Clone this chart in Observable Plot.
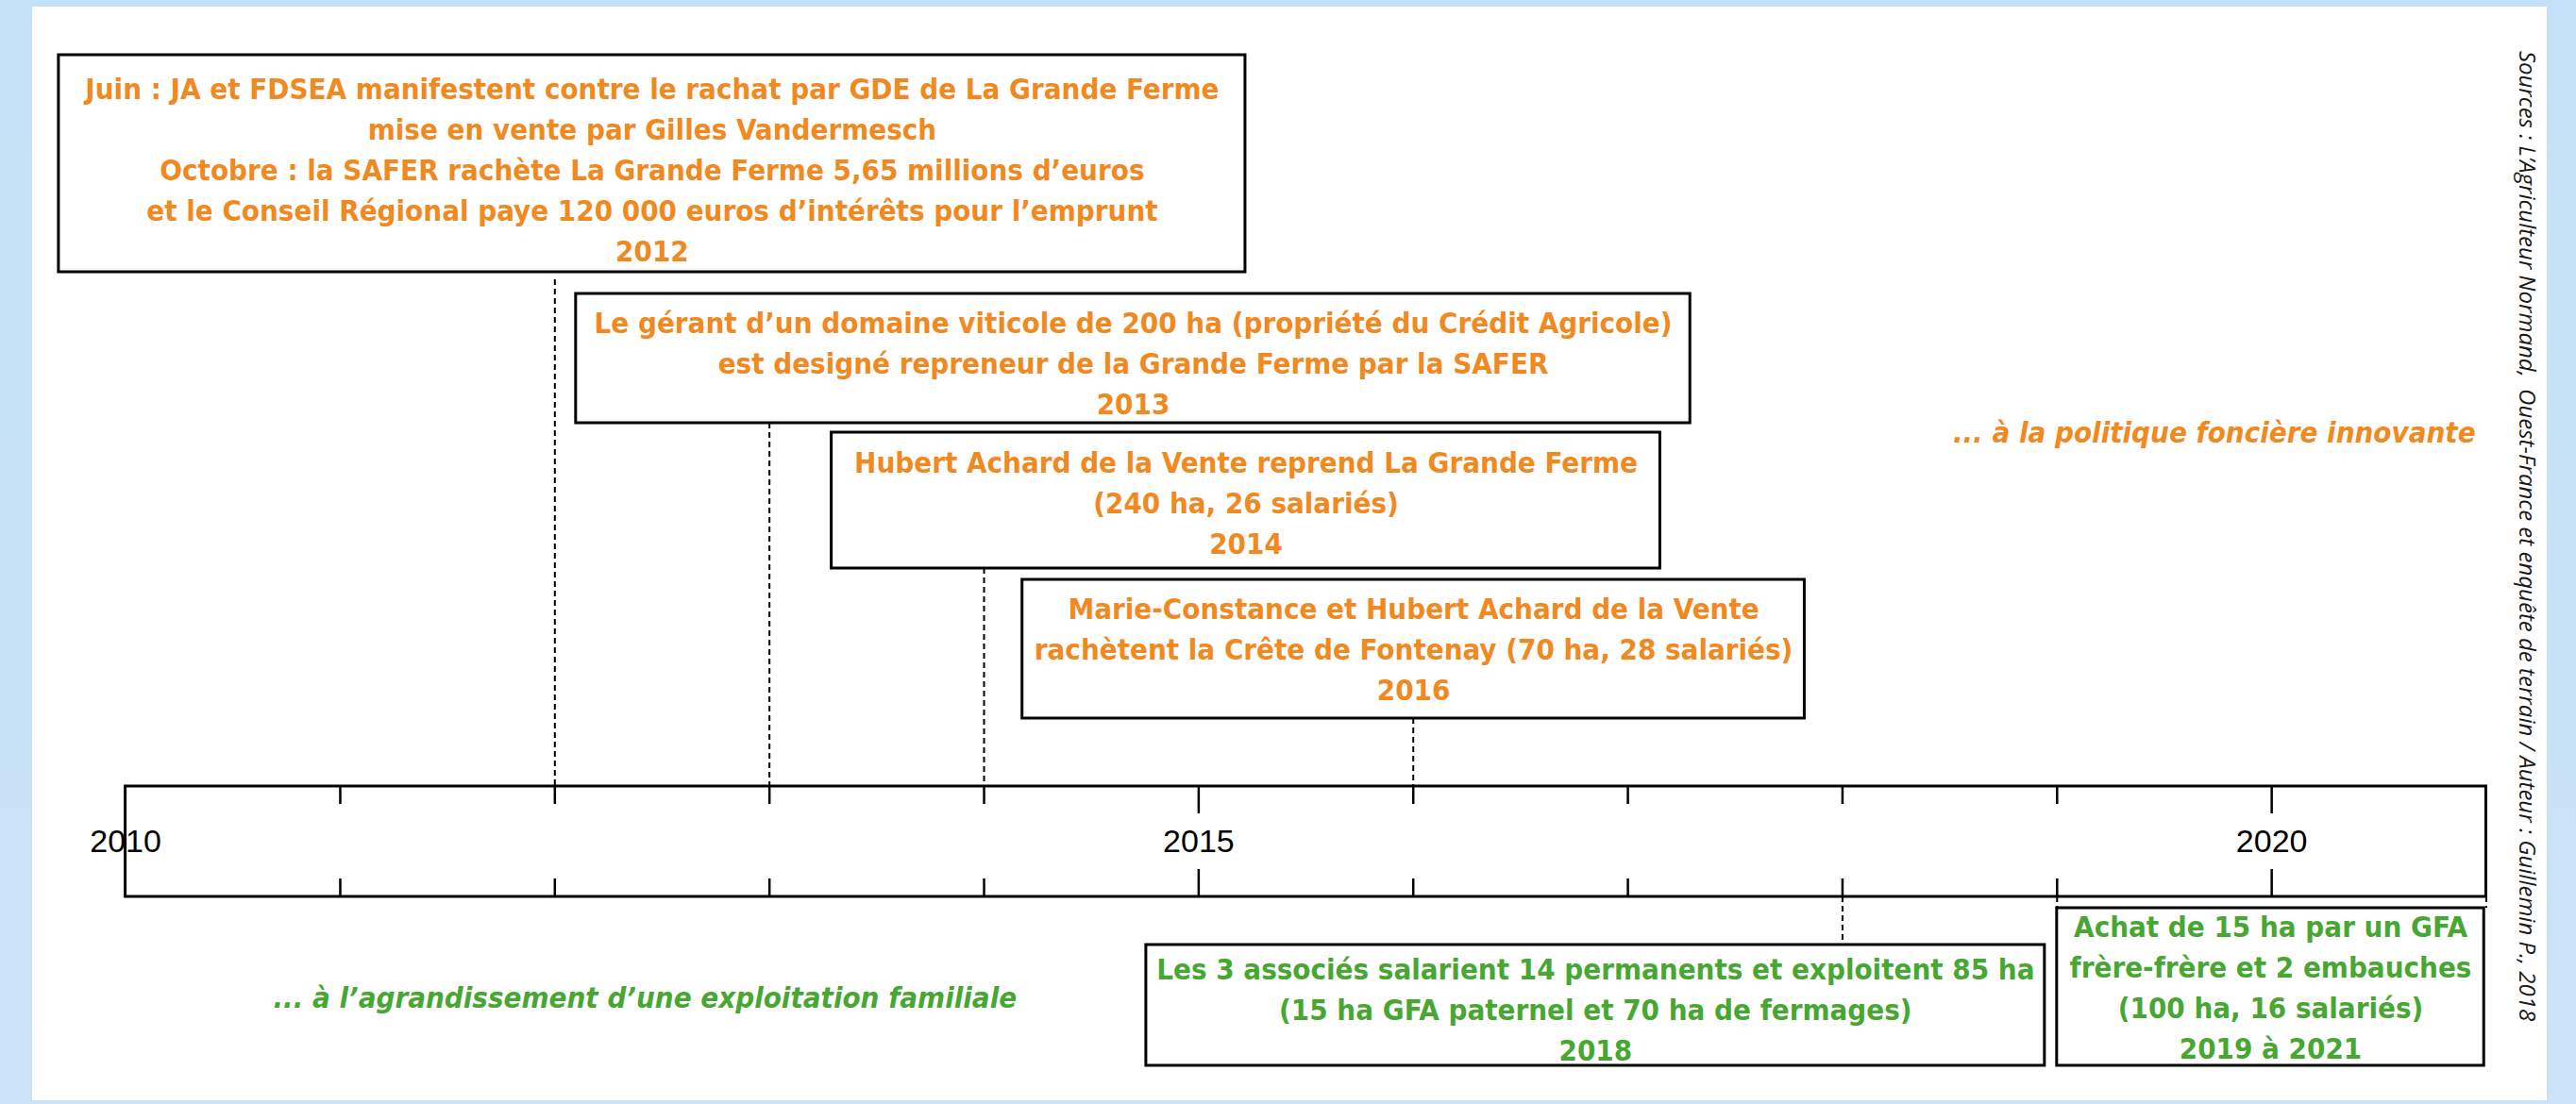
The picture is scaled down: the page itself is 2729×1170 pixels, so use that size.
<!DOCTYPE html>
<html>
<head>
<meta charset="utf-8">
<script src="https://cdn.jsdelivr.net/npm/d3@7"></script>
<script src="https://cdn.jsdelivr.net/npm/@observablehq/plot@0.6"></script>
<style>
html, body { margin: 0; padding: 0; }
body { width: 2729px; height: 1170px; position: relative; overflow: hidden;
       background: linear-gradient(180deg, #c3e1f7 0%, #cbe3f4 100%); }
#chart { position: absolute; left: 34px; top: 7px; }
#chart svg { display: block; background: #ffffff; }
</style>
</head>
<body>
<div id="chart"></div>
<script>
// ---------------- DATA ----------------
const eventYears    = [2012, 2013, 2014, 2016, 2018, 2019];
const eventEndYears = [2012, 2013, 2014, 2016, 2018, 2021];
const eventGroups   = ["foncier", "foncier", "foncier", "foncier", "familial", "familial"];
const eventLines = [
  ["Juin : JA et FDSEA manifestent contre le rachat par GDE de La Grande Ferme",
   "mise en vente par Gilles Vandermesch",
   "Octobre : la SAFER rachète La Grande Ferme 5,65 millions d’euros",
   "et le Conseil Régional paye 120 000 euros d’intérêts pour l’emprunt",
   "2012"],
  ["Le gérant d’un domaine viticole de 200 ha (propriété du Crédit Agricole)",
   "est designé repreneur de la Grande Ferme par la SAFER",
   "2013"],
  ["Hubert Achard de la Vente reprend La Grande Ferme",
   "(240 ha, 26 salariés)",
   "2014"],
  ["Marie-Constance et Hubert Achard de la Vente",
   "rachètent la Crête de Fontenay (70 ha, 28 salariés)",
   "2016"],
  ["Les 3 associés salarient 14 permanents et exploitent 85 ha",
   "(15 ha GFA paternel et 70 ha de fermages)",
   "2018"],
  ["Achat de 15 ha par un GFA",
   "frère-frère et 2 embauches",
   "(100 ha, 16 salariés)",
   "2019 à 2021"]
];
const axisStart = 2010;
const axisEnd = 2021;
const tickYears = [2011, 2012, 2013, 2014, 2015, 2016, 2017, 2018, 2019, 2020];
const majorYears = [2015, 2020];
const labelYears = [2010, 2015, 2020];
const groupNames  = ["foncier", "familial"];
const groupTitles = ["... à la politique foncière innovante",
                     "... à l’agrandissement d’une exploitation familiale"];
const sourceText = "Sources : L’Agriculteur Normand,  Ouest-France et enquête de terrain / Auteur : Guillemin P., 2018";

// ---------------- LAYOUT (positions / styles) ----------------
const W = 2664, H = 1159;
const xRange = [98.6, 2599.5];
const boxLeft   = [2009.689, 2012.099, 2013.290, 2014.179, 2014.756, 2019.0];
const boxRight  = [2015.218, 2017.291, 2017.151, 2017.824, 2018.943, 2020.99];
const boxTop    = [51, 304, 451, 607, 994, 955];
const boxBottom = [281, 441, 595, 754, 1122, 1122];
const firstBaseline = [97, 345, 493, 648, 1030, 985];
const lineStep = 43;
const axisTop = 826, axisBottom = 943;
const minorTick = 19, majorTick = 29;
const titleX = [2020.95, 2012.42];
const titleAnchor = ["end", "middle"];
const titleY = [461, 1060];
const colors = {foncier: "#f0891f", familial: "#48a733"};
const boxFont = "'DejaVu Sans Condensed', 'DejaVu Sans', sans-serif";
const boxFontSize = 31;

// ---------------- BUILD TABLES ----------------
const events = eventYears.map((year, i) => ({
  year, end: eventEndYears[i], group: eventGroups[i],
  x1: boxLeft[i], x2: boxRight[i], y1: boxTop[i], y2: boxBottom[i]
}));

const lineRows = eventLines.flatMap((lines, i) => lines.map((text, j) => ({
  text, group: eventGroups[i],
  cx: (boxLeft[i] + boxRight[i]) / 2,
  y: firstBaseline[i] + j * lineStep
})));

const connectors = events.flatMap(e => {
  const above = e.y2 < axisTop;
  const ends = e.end !== e.year ? [e.year, e.end] : [e.year];
  return ends.map(x => above
    ? {x, from: e.y2 + (e.y1 < 100 ? 8 : 0), to: axisTop}
    : {x, from: axisBottom, to: e.y1});
});

const ticks = tickYears.flatMap(t => {
  const len = majorYears.includes(t) ? majorTick : minorTick;
  return [{x: t, y1: axisTop, y2: axisTop + len}, {x: t, y1: axisBottom - len, y2: axisBottom}];
});

const titles = groupNames.map((g, i) => ({group: g, text: groupTitles[i], x: titleX[i], y: titleY[i], anchor: titleAnchor[i]}));

// ---------------- PLOT ----------------
const chart = Plot.plot({
  width: W,
  height: H,
  margin: 0,
  x: {domain: [axisStart, axisEnd], range: xRange, axis: null},
  y: {domain: [0, H], range: [0, H], axis: null},
  style: {background: "#ffffff", overflow: "visible"},
  marks: [
    // dashed connectors
    Plot.ruleX(connectors, {x: "x", y1: "from", y2: "to", stroke: "#000", strokeWidth: 2, strokeDasharray: "6,4"}),
    // axis band
    Plot.rect([{x1: axisStart, x2: axisEnd}], {x1: "x1", x2: "x2", y1: () => axisTop, y2: () => axisBottom,
      fill: "none", stroke: "#000", strokeWidth: 3}),
    // ticks
    Plot.ruleX(ticks, {x: "x", y1: "y1", y2: "y2", stroke: "#000", strokeWidth: 2.5}),
    // year labels
    Plot.text(labelYears, {x: d => d, y: () => (axisTop + axisBottom) / 2, text: d => String(d),
      fontFamily: "'Liberation Sans', Arial, sans-serif", fontSize: 34, fill: "#000"}),
    // event boxes
    Plot.rect(events, {x1: "x1", x2: "x2", y1: "y1", y2: "y2", fill: "#fff", stroke: "#000", strokeWidth: 3}),
    // event texts
    ...groupNames.map(g => Plot.text(lineRows, {filter: d => d.group === g, x: "cx", y: "y", text: "text",
      lineAnchor: "bottom", textAnchor: "middle", fill: colors[g],
      fontFamily: boxFont, fontSize: boxFontSize, fontWeight: 700})),
    // group titles
    ...titles.map(t => Plot.text([t], {x: "x", y: "y", text: "text", lineAnchor: "bottom", textAnchor: t.anchor,
      fill: colors[t.group], fontFamily: boxFont, fontSize: boxFontSize, fontWeight: 700, fontStyle: "italic"})),
    // source (rotated)
    Plot.text([sourceText], {frameAnchor: "right", textAnchor: "middle", lineAnchor: "middle",
      text: d => d, rotate: 90, dx: -22, dy: -19,
      fontFamily: "'Open Sans', sans-serif", fontStyle: "italic", fontSize: 24, fill: "#1a1a1a"})
  ]
});
document.getElementById("chart").appendChild(chart);
</script>
</body>
</html>
